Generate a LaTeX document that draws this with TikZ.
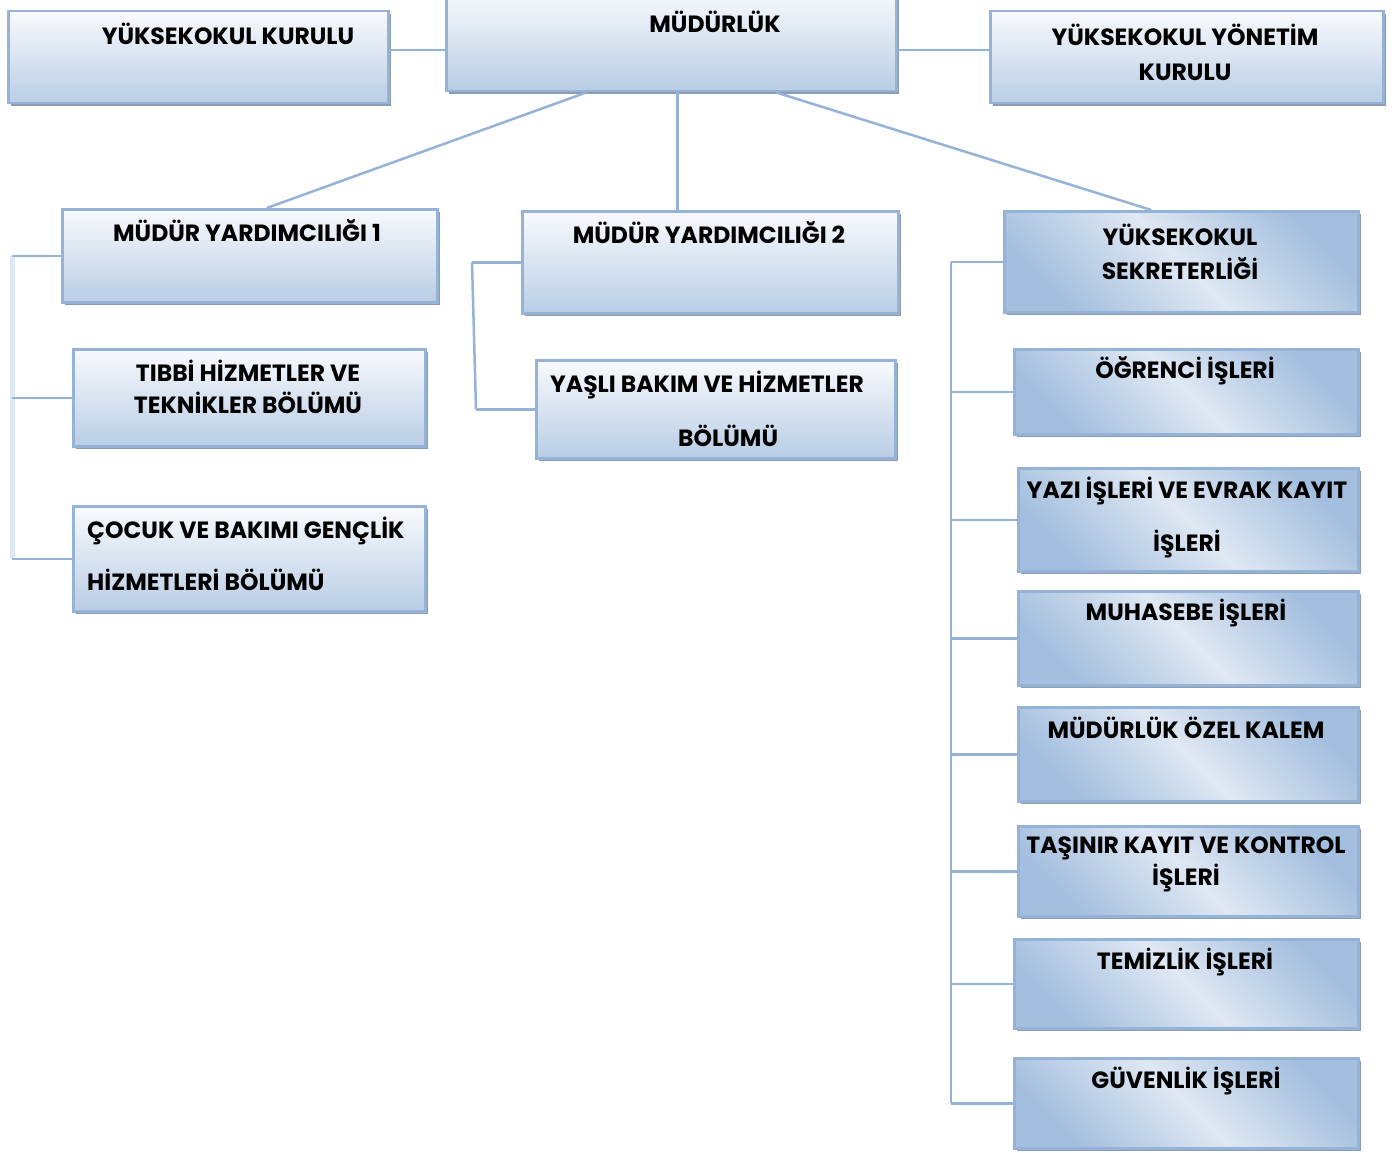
\documentclass[tikz,border=0pt]{standalone}
\usepackage{fontspec}
\setmainfont{Poppins}
\usetikzlibrary{positioning,shadows,calc}
\definecolor{boxline}{HTML}{95B3D7}
\definecolor{boxtop}{HTML}{F8FAFD}
\definecolor{boxbot}{HTML}{B9CDE5}
\definecolor{boxmid}{HTML}{DFE8F3}
\definecolor{boxdark}{HTML}{A3BEDE}
\definecolor{boxshadow}{HTML}{8E9CB0}
\definecolor{busline}{HTML}{DDE8F4}
\tikzset{
	unit/.style={draw=boxline, line width=2.5pt, anchor=north west, inner sep=0pt,
			drop shadow={shadow xshift=3pt, shadow yshift=-3pt, fill=boxshadow, opacity=1}},
	plain/.style={unit, top color=boxtop, bottom color=boxbot},
	office/.style={unit, top color=boxdark, bottom color=boxdark, middle color=boxmid, shading angle=-45},
	lbl/.style={font=\fontsize{23.5}{32}\selectfont\bfseries, align=center, inner sep=0pt},
	link/.style={draw=boxline, line width=2.5pt}
}

\begin{document}
\begin{tikzpicture}[x=1pt, y=-1pt]
	\useasboundingbox (0,0) rectangle (1397,1153);

	% Draw the top row
	\node[plain, minimum width=380pt, minimum height=92pt] (kurul) at (7,10) {};
	\node[plain, minimum width=450pt, minimum height=100pt] (mudurluk) at (445,-10) {};
	\node[plain, minimum width=393pt, minimum height=92pt] (yonetim) at (989,10) {};
	\node[lbl] (kurult) at (228,34) {YÜKSEKOKUL KURULU};
	\node[lbl] (mudurlukt) at (715,22) {MÜDÜRLÜK};
	\node[lbl] (yonetimt) at (1185,52) {YÜKSEKOKUL YÖNETİM\\[3pt]KURULU};

	% Draw the second row
	\node[plain, minimum width=375pt, minimum height=93pt] (my1) at (61,208) {};
	\node[plain, minimum width=376pt, minimum height=102pt] (my2) at (521,210) {};
	\node[office, minimum width=354pt, minimum height=101pt] (sekr) at (1003,210) {};
	\node[lbl] (my1t) at (247,231) {MÜDÜR YARDIMCILIĞI 1};
	\node[lbl] (my2t) at (709,233) {MÜDÜR YARDIMCILIĞI 2};
	\node[lbl] (sekrt) at (1180,252) {YÜKSEKOKUL\\[2pt]SEKRETERLİĞİ};

	% Draw the departments
	\node[plain, minimum width=352pt, minimum height=97pt] (tibbi) at (72,348) {};
	\node[plain, minimum width=352pt, minimum height=105pt] (cocuk) at (72,505) {};
	\node[plain, minimum width=359pt, minimum height=98pt] (yasli) at (535,359) {};
	\node[lbl] (tibbit) at (248,387) {TIBBİ HİZMETLER VE\\TEKNİKLER BÖLÜMÜ};
	\node[lbl, align=left, anchor=west] (cocukt) at (87,554) {ÇOCUK VE BAKIMI GENÇLİK\\[20pt]HİZMETLERİ BÖLÜMÜ};
	\node[lbl, align=left, anchor=west] (yaslit) at (550,409) {YAŞLI BAKIM VE HİZMETLER\\[22pt]\hspace*{128pt}BÖLÜMÜ};

	% Draw the offices
	\node[office, minimum width=344pt, minimum height=85pt] (ogrenci) at (1013,348) {};
	\node[office, minimum width=340pt, minimum height=103pt] (yazi) at (1017,467) {};
	\node[office, minimum width=340pt, minimum height=94pt] (muhasebe) at (1017,590) {};
	\node[office, minimum width=340pt, minimum height=94pt] (ozel) at (1017,706) {};
	\node[office, minimum width=340pt, minimum height=90pt] (tasinir) at (1017,825) {};
	\node[office, minimum width=344pt, minimum height=89pt] (temizlik) at (1013,938) {};
	\node[office, minimum width=344pt, minimum height=90pt] (guvenlik) at (1013,1057) {};
	\node[lbl] (ogrencit) at (1185,371) {ÖĞRENCİ İŞLERİ};
	\node[lbl] (yazit) at (1187,517) {YAZI İŞLERİ VE EVRAK KAYIT\\[21pt]İŞLERİ};
	\node[lbl] (muhasebet) at (1186,613) {MUHASEBE İŞLERİ};
	\node[lbl] (ozelt) at (1186,728) {MÜDÜRLÜK ÖZEL KALEM};
	\node[lbl] (tasinirt) at (1186,864) {TAŞINIR KAYIT VE KONTROL\\İŞLERİ};
	\node[lbl] (temizlikt) at (1185,962) {TEMİZLİK İŞLERİ};
	\node[lbl] (guvenlikt) at (1186,1081) {GÜVENLİK İŞLERİ};

	% Draw the connectors
	\coordinate (toprow) at (0,50);
	\draw[link] (kurul.east |- toprow) -- (mudurluk.west |- toprow);
	\draw[link] (mudurluk.east |- toprow) -- (yonetim.west |- toprow);
	\draw[link] ([xshift=-85pt]mudurluk.south) -- ([xshift=17pt]my1.north);
	\draw[link] ([xshift=6pt]mudurluk.south) -- ([xshift=-33pt]my2.north);
	\draw[link] ([xshift=105pt]mudurluk.south) -- ([xshift=-30pt]sekr.north);

	\coordinate (lbus) at (12,0);
	\draw[busline, line width=5pt] (my1.west -| lbus) -- (cocuk.west -| lbus);
	\foreach \n in {my1,tibbi,cocuk}
		\draw[link] (\n.west -| lbus) -- (\n.west);

	\coordinate (mbus) at (472,0);
	\coordinate (mbusend) at (476,0);
	\draw[link] (my2.west -| mbus) -- (yasli.west -| mbusend);
	\draw[link] (my2.west -| mbus) -- (my2.west);
	\draw[link] (yasli.west -| mbusend) -- (yasli.west);

	\coordinate (rbus) at (951,0);
	\draw[link] (sekr.west -| rbus) -- (guvenlik.west -| rbus);
	\foreach \n in {sekr,ogrenci,yazi,muhasebe,ozel,tasinir,temizlik,guvenlik}
		\draw[link] (\n.west -| rbus) -- (\n.west);
\end{tikzpicture}
\end{document}
